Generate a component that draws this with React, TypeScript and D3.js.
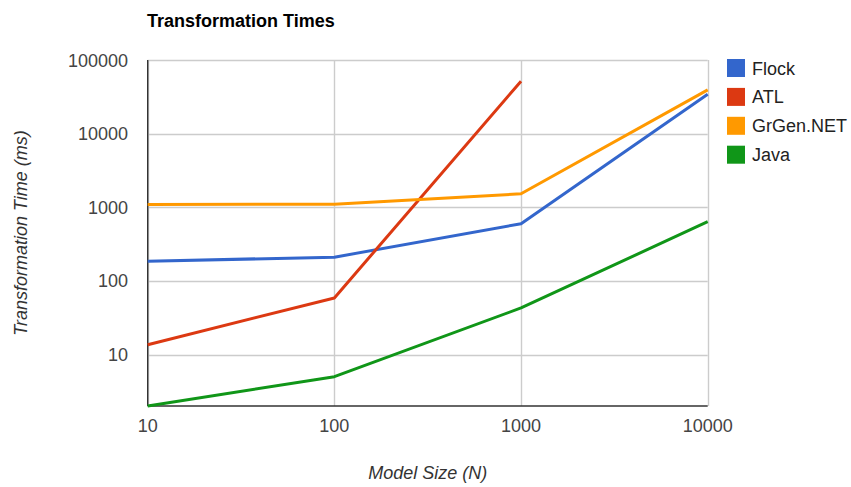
import React, { useEffect, useRef } from 'react';
import * as d3 from 'd3';

// Model sizes (N)
const modelSizes = [10, 100, 1000, 10000];

// Transformation times in ms
const flock = [185, 210, 598, 34300];
const atl = [13.6, 58.7, 51600];
const grgen = [1090, 1100, 1525, 39300];
const java = [2, 5, 42.9, 637];

const seriesNames = ['Flock', 'ATL', 'GrGen.NET', 'Java'];
const seriesColors = ['#3366cc', '#dc3912', '#ff9900', '#109618'];
const seriesValues = [flock, atl, grgen, java];

const xTicks = [10, 100, 1000, 10000];
const yTicks = [10, 100, 1000, 10000, 100000];

const font = 'Arial, "Liberation Sans", sans-serif';

const App = () => {
  const svgRef = useRef<SVGSVGElement>(null);
  const width = 851;
  const height = 487;

  useEffect(() => {
    const svg = d3.select(svgRef.current);
    svg.selectAll('*').remove();

    const left = 147.7;
    const right = 707.7;
    const top = 60;
    const bottom = 406;

    const x = d3.scaleLog().domain([10, 10000]).range([left, right]);
    const y = d3.scaleLog().domain([2, 100000]).range([bottom, top]);

    svg.append('rect')
      .attr('width', width)
      .attr('height', height)
      .attr('fill', '#fff');

    // Grid lines
    svg.selectAll('.hgrid')
      .data(yTicks)
      .enter()
      .append('line')
      .attr('x1', left)
      .attr('x2', right)
      .attr('y1', d => Math.round(y(d)) + 0.5)
      .attr('y2', d => Math.round(y(d)) + 0.5)
      .attr('stroke', '#cccccc')
      .attr('stroke-width', 1.4);

    svg.selectAll('.vgrid')
      .data(xTicks)
      .enter()
      .append('line')
      .attr('x1', d => Math.round(x(d)) + 0.5)
      .attr('x2', d => Math.round(x(d)) + 0.5)
      .attr('y1', top)
      .attr('y2', bottom)
      .attr('stroke', '#cccccc')
      .attr('stroke-width', 1.4);

    // Axis baselines
    svg.append('line')
      .attr('x1', left).attr('x2', left)
      .attr('y1', top).attr('y2', bottom)
      .attr('stroke', '#333').attr('stroke-width', 1.4);
    svg.append('line')
      .attr('x1', left).attr('x2', right)
      .attr('y1', bottom).attr('y2', bottom)
      .attr('stroke', '#333').attr('stroke-width', 1.4);

    // Tick labels
    svg.selectAll('.ylabel')
      .data(yTicks)
      .enter()
      .append('text')
      .attr('x', 128)
      .attr('y', d => y(d) + 6.5)
      .attr('text-anchor', 'end')
      .style('font-family', font)
      .style('font-size', '18px')
      .style('fill', '#444')
      .text(d => String(d));

    svg.selectAll('.xlabel')
      .data(xTicks)
      .enter()
      .append('text')
      .attr('x', d => x(d))
      .attr('y', 432)
      .attr('text-anchor', 'middle')
      .style('font-family', font)
      .style('font-size', '18px')
      .style('fill', '#444')
      .text(d => String(d));

    // Lines
    const line = d3.line<[number, number]>()
      .x(d => x(d[0]))
      .y(d => y(d[1]));

    seriesValues.forEach((vals, i) => {
      const pts = vals.map((v, j) => [modelSizes[j], v] as [number, number]);
      svg.append('path')
        .datum(pts)
        .attr('d', line)
        .attr('fill', 'none')
        .attr('stroke', seriesColors[i])
        .attr('stroke-width', 3)
        .attr('stroke-linejoin', 'round');
    });

    // Legend
    const legend = svg.append('g').attr('transform', 'translate(727, 59)');
    const items = legend.selectAll('.legend-item')
      .data(seriesNames)
      .enter()
      .append('g')
      .attr('transform', (d, i) => `translate(0, ${i * 28.9})`);
    items.append('rect')
      .attr('width', 18)
      .attr('height', 18)
      .attr('fill', (d, i) => seriesColors[i]);
    items.append('text')
      .attr('x', 25)
      .attr('y', 15.5)
      .style('font-family', font)
      .style('font-size', '18px')
      .style('fill', '#222')
      .text(d => d);

    // Title
    svg.append('text')
      .attr('x', 147)
      .attr('y', 27)
      .style('font-family', font)
      .style('font-size', '18px')
      .style('font-weight', 'bold')
      .style('fill', '#000')
      .text('Transformation Times');

    // Axis titles
    svg.append('text')
      .attr('x', (left + right) / 2)
      .attr('y', 479)
      .attr('text-anchor', 'middle')
      .style('font-family', font)
      .style('font-size', '18px')
      .style('font-style', 'italic')
      .style('fill', '#333')
      .text('Model Size (N)');

    svg.append('text')
      .attr('transform', `translate(26.5, ${(top + bottom) / 2}) rotate(-90)`)
      .attr('text-anchor', 'middle')
      .style('font-family', font)
      .style('font-size', '18px')
      .style('font-style', 'italic')
      .style('fill', '#333')
      .text('Transformation Time (ms)');
  }, []);

  return (
    <svg
      ref={svgRef}
      width={width}
      height={height}
      style={{ position: 'absolute', left: 0, top: 0 }}
    />
  );
};

export default App;
